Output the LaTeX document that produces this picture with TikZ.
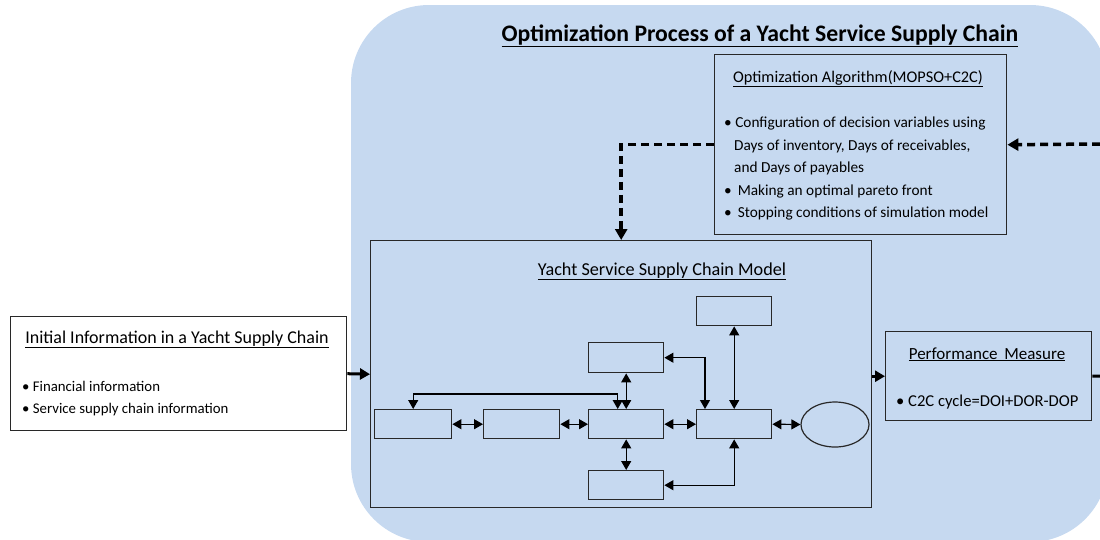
\documentclass[tikz,border=0pt]{standalone}
\usepackage{fontspec}
\setmainfont{Carlito}
\usetikzlibrary{arrows.meta,shapes.geometric}
\definecolor{panel}{RGB}{198,217,240}
\definecolor{edge}{RGB}{40,40,40}
\begin{document}
\begin{tikzpicture}[x=1pt,y=-1pt,
  box/.style={draw=edge, line width=1.4pt, inner sep=0pt, anchor=north west},
  dbl/.style={draw=black, line width=1.2pt, {Triangle[length=9pt,width=10pt]}-{Triangle[length=9pt,width=10pt]}},
  dasharrow/.style={draw=black, line width=3.5pt, dash pattern=on 8pt off 5pt, -{Triangle[length=11pt,width=12pt]}},
  bigarrow/.style={draw=black, line width=3pt, -{Triangle[length=10pt,width=11pt]}},
  head/.style={anchor=base, inner sep=0pt},
  item/.style={anchor=base west, inner sep=0pt}]
\useasboundingbox (0,0) rectangle (1100,539);
\fill[panel, rounded corners=78pt] (351,5) rectangle (1108,542);
\node[font=\bfseries\fontsize{23.7}{26}\selectfont, anchor=base, inner sep=0pt] (title) at (760,41) {\underline{Optimization Process of a Yacht Service Supply Chain}};
% boxes
\node[box, fill=white, minimum width=336pt, minimum height=114pt] (init) at (10,316) {};
\node[box, minimum width=292pt, minimum height=180pt] (opt) at (714,54) {};
\node[box, minimum width=501pt, minimum height=267pt] (model) at (370,240) {};
\node[box, minimum width=206pt, minimum height=89pt] (perf) at (885,331) {};
\node[box, minimum width=77pt, minimum height=29pt] (A) at (374,409) {};
\node[box, minimum width=76pt, minimum height=29pt] (B) at (483,409) {};
\node[box, minimum width=75pt, minimum height=29pt] (C) at (588,409) {};
\node[box, minimum width=75pt, minimum height=29pt] (D) at (696,409) {};
\node[box, minimum width=75pt, minimum height=30pt] (E) at (588,342) {};
\node[box, minimum width=75pt, minimum height=29pt] (F) at (588,470) {};
\node[box, minimum width=75pt, minimum height=29pt] (G) at (696,296) {};
\node[draw=edge, line width=1.2pt, ellipse, inner sep=0pt, minimum width=68pt, minimum height=45pt] (ell) at (835,424.5) {};
% texts
\node[head, font=\fontsize{16.3}{19}\selectfont] (optT) at (858,82) {\underline{Optimization Algorithm(MOPSO+C2C)}};
\begin{scope}[every node/.append style={font=\fontsize{15.3}{18}\selectfont}]
\node[item] (o1) at (724,127) {• Configuration of decision variables using};
\node[item] (o2) at (734,150) {Days of inventory, Days of receivables,};
\node[item] (o3) at (734,172) {and Days of payables};
\node[item] (o4) at (724,195) {•\, Making an optimal pareto front};
\node[item] (o5) at (724,217) {•\, Stopping conditions of simulation model};
\end{scope}
\node[head, font=\fontsize{18.2}{21}\selectfont] (modelT) at (662,275) {\underline{Yacht Service Supply Chain Model}};
\node[head, font=\fontsize{18}{21}\selectfont] (initT) at (177,343) {\underline{Initial Information in a Yacht Supply Chain}};
\node[item, font=\fontsize{14.8}{17}\selectfont] (i1) at (22,391) {• Financial information};
\node[item, font=\fontsize{14.8}{17}\selectfont] (i2) at (22,413) {• Service supply chain information};
\node[head, font=\fontsize{17}{20}\selectfont] (perfT) at (987,359) {\underline{Performance\, Measure}};
\node[item, font=\fontsize{16.6}{20}\selectfont] (p1) at (896,406) {• C2C cycle=DOI+DOR-DOP};
% outer connectors
\coordinate (rin) at (1100,144);
\coordinate (rout) at (1100,376);
\draw[dasharrow] (rin) -- (opt.east);
\draw[dasharrow] (opt.west) -| (model.north);
\draw[bigarrow] (init.east) -- (model.west);
\draw[bigarrow] (model.east |- perf.west) -- (perf.west);
\draw[draw=black, line width=3pt] (perf.east) -- (rout);
% inner connectors
\draw[dbl] (A.east) -- (B.west);
\draw[dbl] (B.east) -- (C.west);
\draw[dbl] (C.east) -- (D.west);
\draw[dbl] (D.east) -- (ell.west);
\draw[dbl] (E.south) -- (C.north);
\draw[dbl] (C.south) -- (F.north);
\draw[dbl] (G.south) -- (D.north);
\draw[dbl] (E.east) -| ([xshift=9pt]D.north west);
\draw[dbl] (F.east) -| (D.south);
\draw[dbl] ([xshift=-8.5pt]C.north) -- ++(0,-15) -| (A.north);
\end{tikzpicture}
\end{document}
